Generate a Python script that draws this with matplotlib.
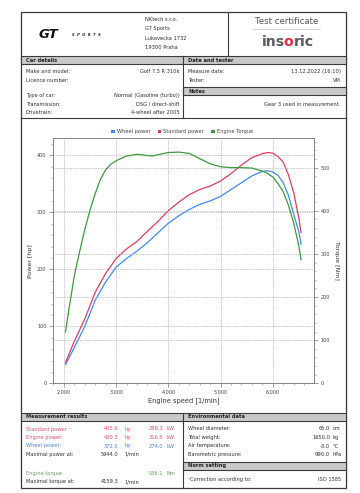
import matplotlib
matplotlib.use("Agg")
import matplotlib.pyplot as plt
from matplotlib.lines import Line2D
from matplotlib.patches import Rectangle, Patch
from matplotlib.ticker import MultipleLocator, FuncFormatter

# ---------------- data ----------------
rpm = [2030, 2200, 2400, 2600, 2800, 3000, 3200, 3400, 3600, 3800, 4000, 4200,
       4400, 4600, 4800, 5000, 5200, 5400, 5600, 5800, 5900, 6000, 6100, 6200,
       6300, 6400, 6500, 6542]
wheel_power = [33, 63, 100, 146, 178, 204, 219, 232, 247, 264, 281, 294,
               305, 314, 320, 328, 340, 352, 364, 372, 373, 371, 365, 352,
               330, 297, 266, 244]
standard_power = [36, 74, 113, 160, 193, 219, 236, 249, 267, 284, 303, 318,
                  331, 340, 346, 355, 368, 383, 396, 403, 405, 404, 398, 388,
                  366, 335, 290, 265]
torque_rpm = [2030, 2100, 2200, 2300, 2400, 2500, 2600, 2700, 2800, 2900, 3000,
              3200, 3400, 3600, 3700, 3800, 4000, 4200, 4400, 4600, 4800, 5000,
              5200, 5400, 5600, 5800, 5900, 6000, 6100, 6200, 6300, 6400, 6500,
              6542]
engine_torque = [119, 175, 250, 305, 357, 402, 440, 473, 495, 508, 516,
                 527, 531, 528, 527, 530, 535, 536, 533, 521, 509, 502,
                 500, 500, 499, 492, 487, 478, 463, 444, 413, 372, 318,
                 287]

legend_labels = ["Wheel power", "Standard power", "Engine Torque"]
series_colors = ["#3d8bfd", "#e23a5e", "#3c9a3c"]

car_rows = [("Make and model:", "Golf 7.5 R 310k"), ("Licence number:", ""),
            ("Type of car:", "Normal (Gasoline (turbo))"),
            ("Transmission:", "DSG / direct-shift"),
            ("Drivetrain:", "4-wheel after 2005")]
date_rows = [("Measure date:", "13.12.2022 (16:10)"), ("Tester:", "VM")]
notes_text = "Gear 3 used in measurement."

results_rows = [("Standard power \u00b9:", "405.6", "hp", "298.3", "kW", "#e0506e"),
                ("Engine power:", "430.3", "hp", "316.5", "kW", "#e0506e"),
                ("Wheel power:", "372.5", "hp", "274.0", "kW", "#4a82ea"),
                ("Maximal power at:", "5944.0", "1/min", "", "", "#303030")]
torque_rows = [("Engine torque", "", "", "536.1", "Nm", "#6d9b5f"),
               ("Maximal torque at:", "4159.3", "1/min", "", "", "#303030")]
env_rows = [("Wheel diameter:", "65.0", "cm"), ("Total weight:", "1650.0", "kg"),
            ("Air temperature:", "-3.0", "\u00b0C"),
            ("Barometric pressure:", "990.0", "hPa")]

# ---------------- figure ----------------
W, H = 360, 493
fig = plt.figure(figsize=(W / 100, H / 100), dpi=100)
fig.patch.set_facecolor("white")

def fx(x):
    return x / W

def fy(y):
    return 1 - y / H

TXT = "#303030"
LINEC = "#3a3a3a"
BAND = "#c9c9c9"
FS = 3.7

def txt(x, y, s, **kw):
    kw.setdefault("fontsize", FS)
    kw.setdefault("color", TXT)
    return fig.text(fx(x), fy(y), s, va="center", **kw)

def hline(x0, x1, y, lw=0.8, color=LINEC):
    fig.add_artist(Line2D([fx(x0), fx(x1)], [fy(y), fy(y)], transform=fig.transFigure,
                          color=color, lw=lw))

def vline(x, y0, y1, lw=0.8, color=LINEC):
    fig.add_artist(Line2D([fx(x), fx(x)], [fy(y0), fy(y1)], transform=fig.transFigure,
                          color=color, lw=lw))

def band(x0, x1, y0, y1):
    fig.add_artist(Rectangle((fx(x0), fy(y1)), fx(x1) - fx(x0), fy(y0) - fy(y1),
                             transform=fig.transFigure, facecolor=BAND,
                             edgecolor=LINEC, lw=0.8))

L, R, T, B = 21, 345.5, 11.7, 487.7
DIV = 183.3

# outer frame
fig.add_artist(Rectangle((fx(L), fy(B)), fx(R) - fx(L), fy(T) - fy(B),
                         transform=fig.transFigure, facecolor="none",
                         edgecolor=LINEC, lw=0.9))

# header
vline(227.7, T, 56)
fig.text(fx(39), fy(34), "GT", fontsize=9.5, fontweight="bold", style="italic",
         color="#111111", va="center")
fig.text(fx(72), fy(34.8), "S  P  O  R  T  S", fontsize=2.6, fontweight="bold",
         style="italic", color="#222222", va="center")
for i, s in enumerate(["NKtech s.r.o.", "GT Sports", "Lukavecka 1732", "19300 Praha"]):
    txt(145, 19.3 + i * 9.4, s)
fig.text(fx(286.7), fy(21.7), "Test certificate", fontsize=6.2, color="#555555",
         ha="center", va="center")
hline(253, 320, 28.5, lw=0.4, color="#aaaaaa")

# logo "insoric" with a red "o"
logo_kw = dict(fontsize=10.2, va="center", fontweight="bold")
renderer = fig.canvas.get_renderer()

def width_px(s):
    t = fig.text(0, 0, s, **logo_kw)
    w = t.get_window_extent(renderer).width
    t.remove()
    return w

x0 = 262
x_o = x0 + width_px("ins") - 1.4
x_ric = x_o + width_px("o") + 0.3
fig.text(fx(x0), fy(42), "ins", color="#5c5c5c", **logo_kw)
fig.text(fx(x_o), fy(42), "o", color="#e0303c", **logo_kw)
fig.text(fx(x_ric), fy(42), "ric", color="#5c5c5c", **logo_kw)

# car details section
band(L, R, 56, 64.3)
vline(DIV, 56, 118.3)
txt(26, 60.3, "Car details", fontweight="bold", color="#222222")
txt(188.3, 60.3, "Date and tester", fontweight="bold", color="#222222")
car_y = [71.7, 80, 95.7, 104, 112.3]
for (lab, val), y in zip(car_rows, car_y):
    txt(26, y, lab)
    txt(179.3, y, val, ha="right")
for (lab, val), y in zip(date_rows, [71.7, 80]):
    txt(188.3, y, lab)
    txt(340.7, y, val, ha="right")
band(DIV, R, 87.3, 95)
txt(188.3, 91.2, "Notes", fontweight="bold", color="#222222")
txt(340.7, 104, notes_text, ha="right")
hline(L, R, 118.3)

# ---------------- chart ----------------
ax = fig.add_axes([fx(52.7), fy(383.3), fx(314) - fx(52.7), fy(138.3) - fy(383.3)])
ax2 = ax.twinx()
GRID = "#b5b5b5"
ax.set_xlim(1785, 6790)
ax.set_ylim(0, 430)
ax2.set_ylim(0, 568)

ax.plot(rpm, wheel_power, color=series_colors[0], lw=0.9, zorder=3)
ax.plot(rpm, standard_power, color=series_colors[1], lw=0.9, zorder=3)
ax2.plot(torque_rpm, engine_torque, color=series_colors[2], lw=0.9, zorder=3)

ax.xaxis.set_major_locator(MultipleLocator(1000))
ax.xaxis.set_minor_locator(MultipleLocator(200))
ax.yaxis.set_major_locator(MultipleLocator(100))
ax.yaxis.set_minor_locator(MultipleLocator(20))
ax2.yaxis.set_major_locator(MultipleLocator(100))
ax2.yaxis.set_minor_locator(MultipleLocator(20))
ax.xaxis.set_major_formatter(FuncFormatter(lambda v, p: f"{int(v):,}"))

for a in (ax, ax2):
    for sp in a.spines.values():
        sp.set_color("#888888")
        sp.set_linewidth(0.7)
    a.tick_params(which="major", length=3, width=0.5, color="#777777",
                  labelsize=3.5, labelcolor="#444444", pad=1.5)
    a.tick_params(which="minor", length=1.6, width=0.4, color="#888888")

ax.grid(True, which="major", color=GRID, linestyle=(0, (2, 1.2)), lw=0.5)
ax2.grid(True, which="major", axis="y", color=GRID, linestyle=(0, (2, 1.2)), lw=0.5)
ax.set_axisbelow(True)
ax2.set_axisbelow(True)

ax.set_ylabel("Power [hp]", fontsize=4.5, color="#333333", labelpad=3)
ax2.set_ylabel("Torque [Nm]", fontsize=4.5, color="#333333", rotation=270,
               labelpad=7)
ax.set_xlabel("Engine speed [1/min]", fontsize=4.8, color="#333333", labelpad=2)

handles = [Patch(facecolor=c, edgecolor="none") for c in series_colors]
fig.legend(handles, legend_labels, loc="center", bbox_to_anchor=(fx(182), fy(131.7)),
           ncol=3, frameon=False, fontsize=3.7, handlelength=0.7, handleheight=0.5,
           handletextpad=0.4, columnspacing=1.4, labelcolor="#444444")

# ---------------- results ----------------
band(L, R, 412.7, 421)
vline(DIV, 412.7, B)
txt(26, 417, "Measurement results", fontweight="bold", color="#222222")
txt(188.3, 417, "Environmental data", fontweight="bold", color="#222222")
res_y = [429, 437.3, 446, 454.3]
for (lab, v1, u1, v2, u2, c), y in zip(results_rows, res_y):
    txt(26, y, lab, color=c)
    if v1:
        txt(118.3, y, v1, ha="right", color=c)
        txt(124.3, y, u1, color=c)
    if v2:
        txt(163.3, y, v2, ha="right", color=c)
        txt(166.7, y, u2, color=c)
for (lab, v1, u1, v2, u2, c), y in zip(torque_rows, [473.3, 481.7]):
    txt(26, y, lab, color=c)
    if v1:
        txt(118.3, y, v1, ha="right", color=c)
        txt(124.3, y, u1, color=c)
    if v2:
        txt(163.3, y, v2, ha="right", color=c)
        txt(166.7, y, u2, color=c)
for (lab, v, u), y in zip(env_rows, res_y):
    txt(188.3, y, lab)
    txt(330, y, v, ha="right")
    txt(332.3, y, u)
band(DIV, R, 461.7, 470)
txt(188.3, 466, "Norm setting", fontweight="bold", color="#222222")
txt(188.3, 479.3, "\u00b9Correction according to:")
txt(340.7, 479.3, "ISO 1585", ha="right")

fig.savefig("out.png", dpi=100, facecolor="white")
